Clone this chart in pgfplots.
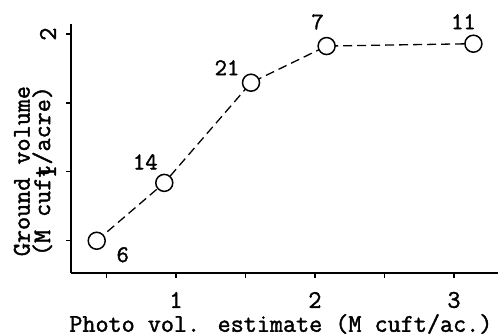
\documentclass[border=0pt]{standalone}
\usepackage{pgfplots}
\pgfplotsset{compat=1.18}
\usepackage{fontspec}
\newfontfamily\twfont{Latin Modern Mono}[FakeBold=1.6]
\newcommand{\chartfont}{\fontsize{25.5}{20.5}\selectfont\twfont}
\newcommand{\datafont}{\fontsize{24}{20}\selectfont\twfont}
\begin{document}
\begin{tikzpicture}
\path[use as bounding box] (0,0) rectangle (503bp,336bp);
\begin{axis}[
  at={(71bp,63bp)}, anchor=south west,
  x=139bp, y=137.8bp,
  xmin=0.245, xmax=3.32, ymin=0.266, ymax=2.07,
  axis x line*=bottom, axis y line*=left,
  axis line style={-, line width=1.2bp},
  every tick/.style={black, line width=1.2bp},
  tick align=outside, major tick length=5bp,
  xtick={0.5,1,1.5,2,2.5,3}, xticklabels={,1,,2,,3},
  ytick={0.5,1,1.5,2}, yticklabels={,1,,2},
  tick label style={font=\chartfont, inner sep=1bp},
  label style={font=\chartfont, inner sep=1bp},
  xticklabel style={anchor=center, yshift=-22bp},
  yticklabel style={rotate=90, anchor=center, yshift=18bp},
  xlabel={Photo vol. estimate (M cuft/ac.)},
  xlabel style={at={(axis description cs:0.491,0)}, anchor=center, yshift=-51bp},
  ylabel={Ground volume\\(M cuft/acre)},
  ylabel style={at={(axis description cs:0,0.41)}, anchor=center, yshift=38bp, align=center},
  clip=false,
]
\addplot[black, line width=1.3bp, dash pattern=on 9bp off 5bp,
  mark=*, mark size=8.5bp, mark options={solid, fill=white, line width=1.5bp},
  nodes near coords, point meta=explicit symbolic,
  visualization depends on={value \thisrow{dx} \as \dx},
  visualization depends on={value \thisrow{dy} \as \dy},
  nodes near coords style={anchor=center, xshift=\dx bp, yshift=\dy bp, font=\datafont}]
  table[meta=lab] {
x     y     lab dx  dy
0.43  0.50  6   26  -14
0.916 0.92  14  -19 21
1.54  1.647 21  -24 15
2.084 1.913 7   -9  24
3.14  1.93  11  -10 22
};
\end{axis}
\end{tikzpicture}
\end{document}
